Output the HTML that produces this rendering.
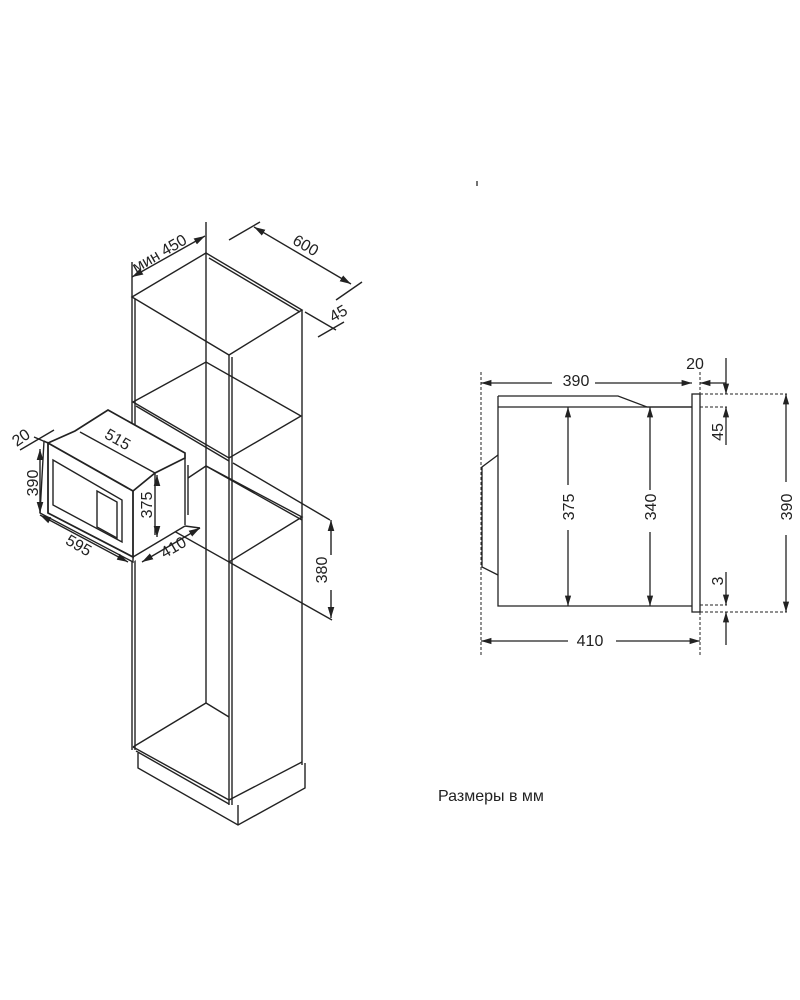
<!DOCTYPE html>
<html><head><meta charset="utf-8"><style>
html,body{margin:0;padding:0;background:#fff;}
svg{display:block;}
text{font-family:"Liberation Sans","DejaVu Sans",sans-serif;fill:#222;}
</style></head><body>
<svg width="800" height="1000" viewBox="0 0 800 1000" xmlns="http://www.w3.org/2000/svg">
<defs>
<marker id="a" viewBox="0 0 10 10" refX="10" refY="5" markerWidth="8" markerHeight="8" orient="auto-start-reverse"><path d="M0,2 L10,5 L0,8 z" fill="#222"/></marker>
</defs>
<g stroke="#222" stroke-width="1.4" fill="none">
<!-- cabinet top -->
<path d="M132,297 L206,253 L302,310 L229,355 Z"/>
<line x1="209" y1="258" x2="300" y2="312"/>
<line x1="132" y1="297" x2="132" y2="750"/><line x1="135" y1="299" x2="135" y2="750"/>
<line x1="229" y1="355" x2="229" y2="805"/><line x1="232" y1="357" x2="232" y2="805"/>
<line x1="302" y1="310" x2="302" y2="765"/>
<line x1="206" y1="253" x2="206" y2="703"/>
<path d="M133,402 L206,362 L301,416 L229,458 Z"/>
<line x1="136" y1="406" x2="229" y2="461"/>
<path d="M185,480 L206,466 L302,517 L229,562 L133,508"/>
<line x1="206" y1="466" x2="302" y2="520"/>
<path d="M133,747 L206,703 L229,717"/>
<line x1="133" y1="747" x2="229" y2="800"/><line x1="136" y1="751" x2="229" y2="804"/>
<line x1="229" y1="800" x2="302" y2="762"/>
<path d="M138,753 L138,768 L238,825 L305,788 L305,763"/>
<line x1="238" y1="805" x2="238" y2="825"/>
<line x1="233" y1="463" x2="330" y2="520"/>
<line x1="229" y1="562" x2="332" y2="620"/>
<line x1="331" y1="555" x2="331" y2="520" marker-end="url(#a)"/>
<line x1="331" y1="590" x2="331" y2="618" marker-end="url(#a)"/>
<line x1="132" y1="262" x2="132" y2="297"/>
<line x1="206" y1="222" x2="206" y2="253"/>
<line x1="132" y1="277" x2="205" y2="236" marker-start="url(#a)" marker-end="url(#a)"/>
<line x1="229" y1="240" x2="260" y2="222"/>
<line x1="336" y1="300" x2="362" y2="282"/>
<line x1="254" y1="227" x2="351" y2="284" marker-start="url(#a)" marker-end="url(#a)"/>
<line x1="305" y1="312" x2="336" y2="330"/>
<line x1="318" y1="337" x2="344" y2="322"/>
<!-- microwave -->
<path d="M40,513 L44,441 L75,431 L108,410 L185,453 L188,460 L188,518 L185,525 L133,562 Z" fill="#fff" stroke="none"/>
<path d="M48,443 L133,491 L133,557 L48,513 Z" stroke-width="1.8"/>
<path d="M44,441 L48,443 M44,441 L40,513 L133,562 L133,557"/>
<path d="M53,460 L122,500 L122,542 L53,505 Z"/>
<path d="M97,491 L117,502 L117,538 L97,527 Z"/>
<path d="M48,443 L75,431 L108,410 L185,453 L185,458 L155,473 L133,491" stroke-width="1.7"/>
<line x1="80" y1="432" x2="155" y2="473"/>
<line x1="155" y1="473" x2="155" y2="535"/>
<line x1="185" y1="458" x2="185" y2="525"/>
<line x1="133" y1="557" x2="185" y2="526"/>
<line x1="188" y1="465" x2="188" y2="515"/>
<line x1="157" y1="480" x2="157" y2="475" marker-end="url(#a)"/>
<line x1="157" y1="528" x2="157" y2="537" marker-end="url(#a)"/>
<line x1="40" y1="449" x2="40" y2="513" marker-start="url(#a)" marker-end="url(#a)"/>
<line x1="20" y1="450" x2="54" y2="430"/>
<line x1="34" y1="437" x2="48" y2="443"/>
<line x1="40" y1="515" x2="128" y2="562" marker-start="url(#a)" marker-end="url(#a)"/>
<line x1="142" y1="562" x2="200" y2="528" marker-start="url(#a)" marker-end="url(#a)"/>
<line x1="185" y1="526" x2="200" y2="528"/>
</g>
<g font-size="16">
<text transform="translate(162,258) rotate(-30)" text-anchor="middle">мин 450</text>
<text transform="translate(303,250) rotate(30)" text-anchor="middle">600</text>
<text transform="translate(341,318) rotate(-30)" text-anchor="middle">45</text>
<text transform="translate(327,570) rotate(-90)" text-anchor="middle">380</text>
<text transform="translate(24,442) rotate(-35)" text-anchor="middle">20</text>
<text transform="translate(115,444) rotate(30)" text-anchor="middle">515</text>
<text transform="translate(38,483) rotate(-90)" text-anchor="middle">390</text>
<text transform="translate(152,505) rotate(-90)" text-anchor="middle">375</text>
<text transform="translate(76,550) rotate(30)" text-anchor="middle">595</text>
<text transform="translate(176,552) rotate(-30)" text-anchor="middle">410</text>
</g>
<g stroke="#222" stroke-width="1.3" fill="none">
<path d="M498,396 L618,396 L647,407 L692,407 M498,396 L498,606 L692,606"/>
<line x1="498" y1="407" x2="692" y2="407"/>
<rect x="692" y="394" width="8" height="218"/>
<path d="M498,455 L482,467 L482,567 L498,575"/>
<g stroke-dasharray="3,2" stroke-width="1">
<line x1="481" y1="372" x2="481" y2="655"/>
<line x1="700" y1="372" x2="700" y2="655"/>
<line x1="700" y1="394" x2="787" y2="394"/>
<line x1="700" y1="407" x2="727" y2="407"/>
<line x1="700" y1="605" x2="727" y2="605"/>
<line x1="700" y1="612" x2="787" y2="612"/>
</g>
<line x1="552" y1="383" x2="481" y2="383" marker-end="url(#a)"/>
<line x1="595" y1="383" x2="692" y2="383" marker-end="url(#a)"/>
<line x1="726" y1="383" x2="700" y2="383" marker-end="url(#a)"/>
<line x1="726" y1="358" x2="726" y2="394" marker-end="url(#a)"/>
<line x1="726" y1="445" x2="726" y2="407" marker-end="url(#a)"/>
<line x1="726" y1="572" x2="726" y2="605" marker-end="url(#a)"/>
<line x1="726" y1="645" x2="726" y2="612" marker-end="url(#a)"/>
<line x1="786" y1="482" x2="786" y2="394" marker-end="url(#a)"/>
<line x1="786" y1="535" x2="786" y2="612" marker-end="url(#a)"/>
<line x1="568" y1="485" x2="568" y2="407" marker-end="url(#a)"/>
<line x1="568" y1="530" x2="568" y2="606" marker-end="url(#a)"/>
<line x1="650" y1="490" x2="650" y2="407" marker-end="url(#a)"/>
<line x1="650" y1="532" x2="650" y2="606" marker-end="url(#a)"/>
<line x1="568" y1="641" x2="481" y2="641" marker-end="url(#a)"/>
<line x1="616" y1="641" x2="700" y2="641" marker-end="url(#a)"/>
</g>
<g font-size="16">
<text x="576" y="386" text-anchor="middle">390</text>
<text x="695" y="369" text-anchor="middle">20</text>
<text transform="translate(723,432) rotate(-90)" text-anchor="middle">45</text>
<text transform="translate(723,581) rotate(-90)" text-anchor="middle">3</text>
<text transform="translate(792,507) rotate(-90)" text-anchor="middle">390</text>
<text transform="translate(574,507) rotate(-90)" text-anchor="middle">375</text>
<text transform="translate(656,507) rotate(-90)" text-anchor="middle">340</text>
<text x="590" y="646" text-anchor="middle">410</text>
</g>
<line x1="477" y1="181" x2="477" y2="186" stroke="#444" stroke-width="1.5"/>
<text x="438" y="801" font-size="16">Размеры в мм</text>
</svg>
</body></html>
